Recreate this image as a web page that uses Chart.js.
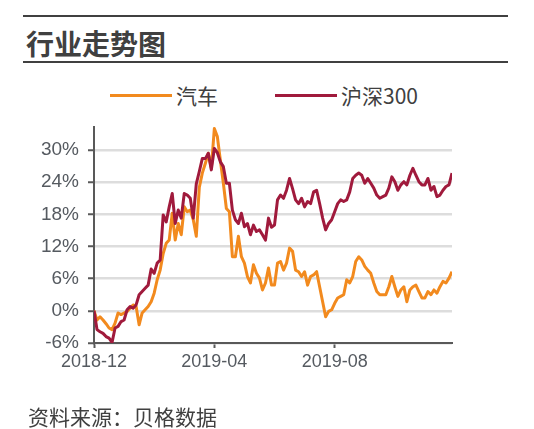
<!DOCTYPE html>
<html>
<head>
<meta charset="utf-8">
<script src="https://cdn.jsdelivr.net/npm/chart.js@4"></script>
<style>
  html, body { margin: 0; padding: 0; background: #ffffff; }
  #wrap { position: relative; width: 534px; height: 429px; overflow: hidden; background: #fff; }
  #c { position: absolute; left: 0; top: 0; }
  .rule { position: absolute; left: 23px; width: 485px; height: 2px; background: #404040; }
  .txt { position: absolute; white-space: nowrap; font-family: "Noto Sans CJK SC", "Noto Sans", sans-serif; color: #404040; }
  .lg { position: absolute; height: 3px; }
</style>
</head>
<body>
<div id="wrap">
  <div class="rule" style="top:15px"></div>
  <div class="txt" style="left:26px; top:29px; font-size:28px; line-height:28px; font-weight:bold;">行业走势图</div>
  <div class="rule" style="top:61px"></div>

  <div class="lg" style="left:110px; top:94px; width:62px; background:#F28A1E;"></div>
  <div class="txt" style="left:176px; top:85px; font-size:21px; line-height:21px;">汽车</div>
  <div class="lg" style="left:275px; top:94px; width:62px; background:#A01A3C;"></div>
  <div class="txt" style="left:341px; top:85px; font-size:21px; line-height:21px;">沪深300</div>

  <canvas id="c" width="534" height="429"></canvas>

  <div class="txt" style="left:28px; top:406px; font-size:21px; line-height:21px;">资料来源：贝格数据</div>
</div>
<script>
// ---- data ----
const seriesNames = ["汽车", "沪深300"];
const autoValues = [
  0, -1.7, -1.1, -1.7, -2.4, -3.2, -3.5, -2.3, -0.4, -0.7,
  -0.4, -0.1, 0.5, 1.1, 0.8, -2.6, -0.4, 0.2, 0.8, 1.7,
  3.3, 5.8, 7.6, 10.7, 12.6, 13.2, 18.2, 13.2, 16.3, 14.2,
  19.4, 18.5, 18.8, 17.0, 13.9, 23.0, 25.7, 27.5, 29.4, 26.6,
  34.0, 32.5, 28.1, 23.8, 19.1, 18.5, 10.1, 10.1, 13.9, 10.1,
  8.9, 6.4, 5.2, 8.6, 7.0, 6.1, 3.9, 5.2, 8.0, 4.8,
  4.8, 8.9, 9.2, 7.6, 8.9, 11.7, 11.1, 7.6, 7.3, 6.4,
  7.3, 4.8, 6.4, 6.7, 7.3, 4.5, 1.7, -1.1, -0.1, 0.2,
  1.4, 2.4, 2.7, 3.0, 5.8, 5.2, 6.4, 9.2, 10.1, 9.5,
  8.3, 7.6, 7.0, 5.2, 3.6, 3.0, 3.0, 3.0, 4.5, 6.4,
  4.5, 2.7, 3.9, 4.5, 1.7, 3.9, 4.5, 4.8, 3.6, 2.4,
  2.4, 3.6, 3.0, 3.9, 3.3, 4.5, 5.5, 5.2, 6.1, 7.3
];
const hs300Values = [
  0, -3.5, -3.9, -4.2, -4.8, -5.1, -5.9, -3.2, -2.9, -2.0,
  -1.7, 0.2, 0.8, 0.5, 1.1, 3.0, 3.6, 4.2, 4.8, 7.8,
  7.0, 8.9, 9.5, 17.9, 16.6, 19.4, 21.9, 16.3, 18.8, 17.3,
  21.9, 21.6, 21.0, 17.3, 23.7, 26.0, 28.4, 28.4, 29.4, 26.3,
  30.3, 29.5, 27.8, 26.9, 23.8, 23.8, 18.8, 17.0, 16.3, 18.2,
  15.7, 16.3, 14.2, 16.0, 14.8, 15.1, 14.2, 13.2, 17.3, 15.6,
  16.0, 20.7, 21.6, 21.0, 22.5, 24.7, 22.8, 20.7, 20.0, 21.0,
  19.4, 20.4, 20.0, 22.2, 22.5, 20.0, 17.3, 15.1, 16.3, 17.0,
  18.5, 20.0, 20.7, 20.4, 20.7, 22.2, 24.7, 25.3, 25.7, 25.3,
  23.8, 24.7, 23.8, 22.9, 21.6, 21.0, 21.3, 21.6, 22.9, 25.0,
  24.1, 22.5, 23.5, 24.1, 23.5, 25.3, 26.6, 25.3, 24.1, 23.5,
  23.5, 24.7, 22.5, 23.2, 21.3, 21.6, 22.5, 23.2, 23.5, 25.7
];
const xTickPositions = [0, 40, 80];
const xTickLabels = ["2018-12", "2019-04", "2019-08"];
const yTickValues = [-6, 0, 6, 12, 18, 24, 30];

// ---- chart ----
const toPoints = arr => arr.map((v, i) => ({ x: i, y: v }));
const tickFontFamily = '"Liberation Sans", Arial, sans-serif';
const axisColor = '#595959';

new Chart(document.getElementById('c'), {
  type: 'line',
  data: {
    datasets: [
      { label: seriesNames[0], data: toPoints(autoValues), borderColor: '#F28A1E', backgroundColor: '#F28A1E',
        borderWidth: 3, pointRadius: 0, tension: 0, borderJoinStyle: 'round', order: 1 },
      { label: seriesNames[1], data: toPoints(hs300Values), borderColor: '#A01A3C', backgroundColor: '#A01A3C',
        borderWidth: 3, pointRadius: 0, tension: 0, borderJoinStyle: 'round', order: 0 }
    ]
  },
  options: {
    responsive: false,
    animation: false,
    devicePixelRatio: 1,
    layout: { padding: { top: 127, right: 82, left: 0, bottom: 0 } },
    plugins: { legend: { display: false }, tooltip: { enabled: false } },
    scales: {
      x: {
        type: 'linear',
        min: 0,
        max: autoValues.length - 1,
        afterBuildTicks: s => { s.ticks = xTickPositions.map(v => ({ value: v })); },
        afterFit: s => { s.height = 86; },
        ticks: {
          autoSkip: false, maxRotation: 0, padding: 3,
          color: '#555a60',
          font: { family: tickFontFamily, size: 18 },
          callback: v => { const k = xTickPositions.indexOf(v); return k >= 0 ? xTickLabels[k] : ''; }
        },
        grid: { drawOnChartArea: false, drawTicks: true, tickLength: 5, tickColor: axisColor, tickWidth: 2 },
        border: { display: true, color: axisColor, width: 2 }
      },
      y: {
        min: -6,
        max: 34.3,
        afterBuildTicks: s => { s.ticks = yTickValues.map(v => ({ value: v })); },
        afterFit: s => { s.width = 94; },
        ticks: {
          padding: 9,
          color: '#555a60',
          font: { family: tickFontFamily, size: 19 },
          callback: v => v + '%'
        },
        grid: { color: '#dddddd', lineWidth: 2.5, drawTicks: true, tickLength: 6, tickColor: axisColor, tickWidth: 2 },
        border: { display: true, color: axisColor, width: 2 }
      }
    }
  }
});
</script>
</body>
</html>
